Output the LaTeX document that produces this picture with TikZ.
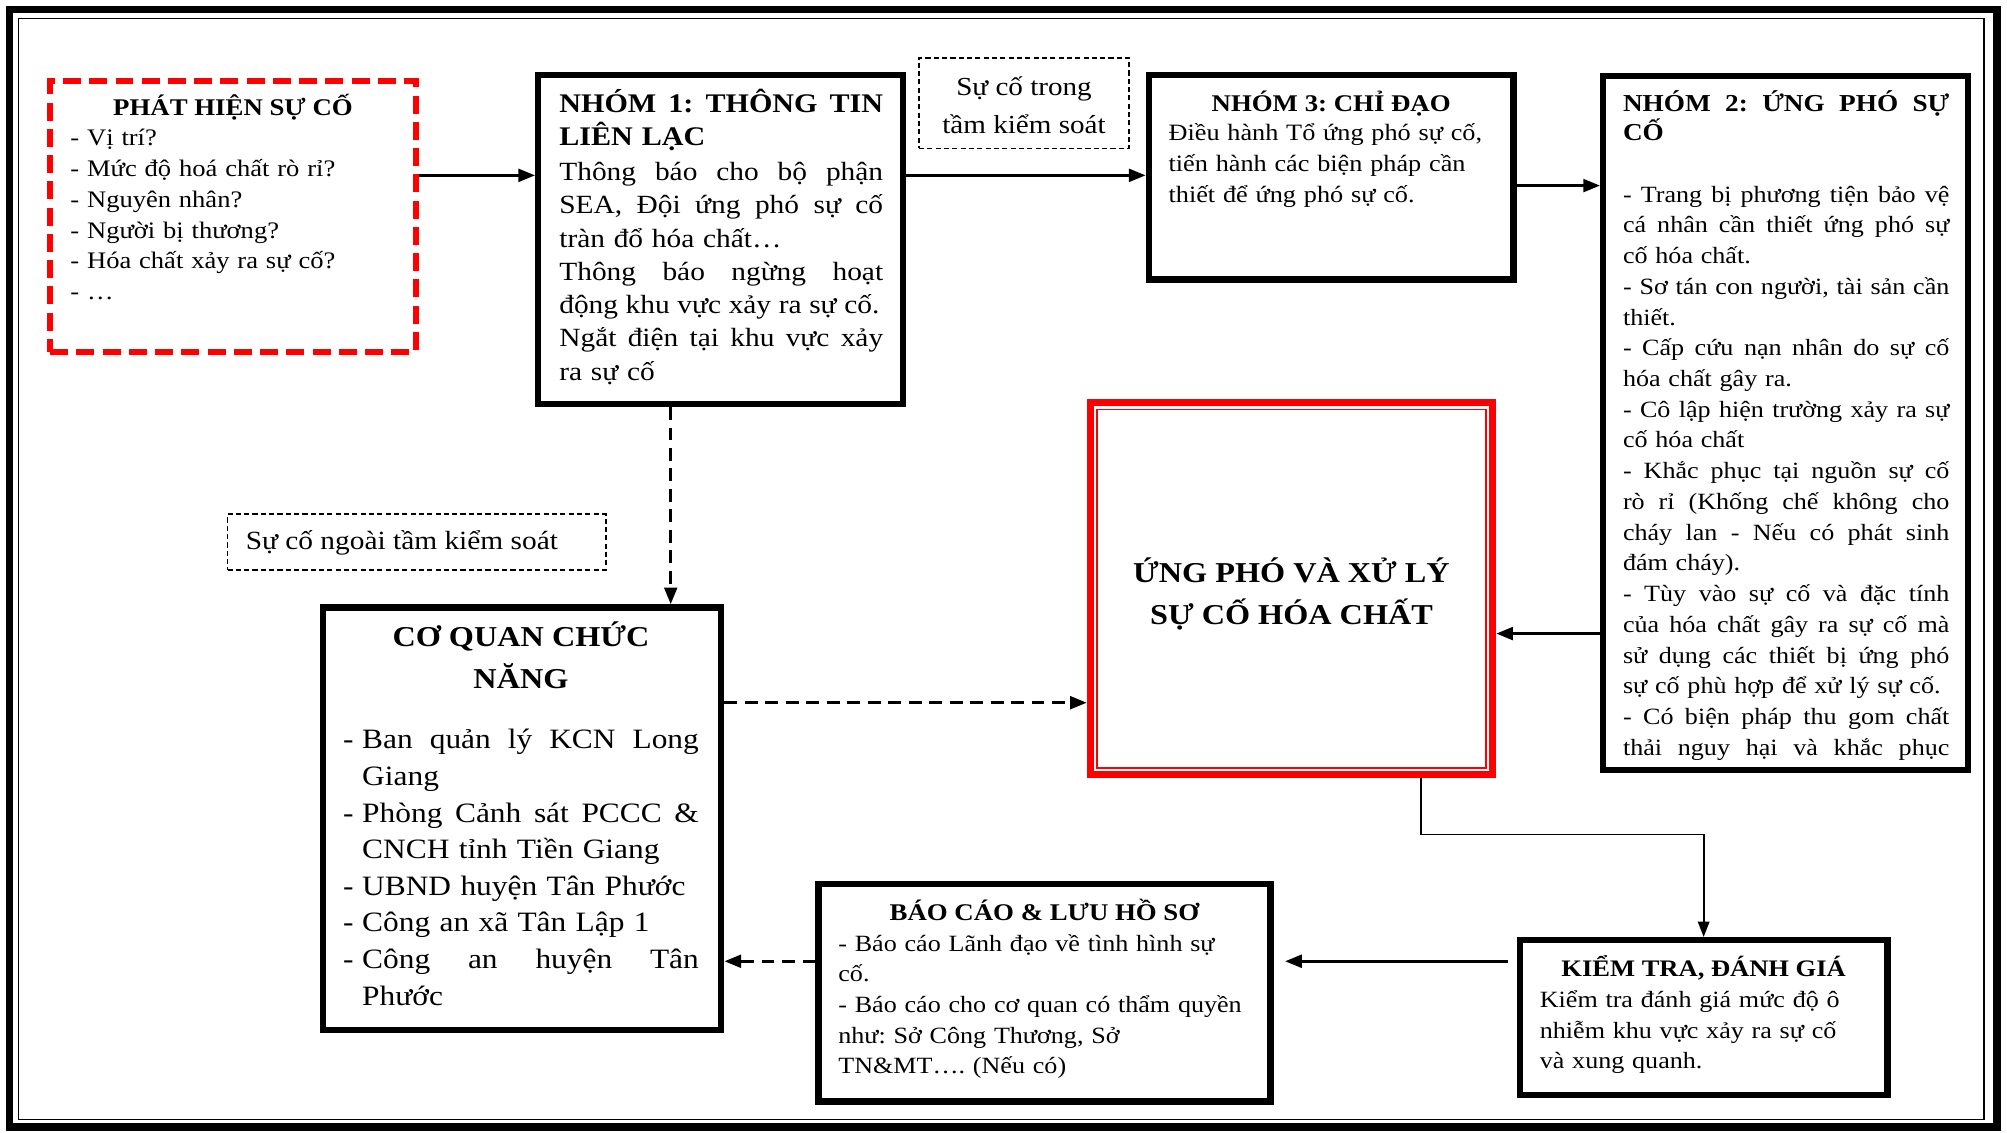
\documentclass[tikz,border=0pt]{standalone}
\usepackage{fontspec}
\setmainfont{Liberation Serif}[FakeStretch=1.12]
\usetikzlibrary{arrows.meta}
% a line spread to a given width (in pt) by stretching its word spaces
\newcommand\jl[2]{\leavevmode\hbox to #1pt{\spaceskip=\fontdimen2\font plus 1fil minus \fontdimen4\font\relax #2}}
\newcommand\fs[2]{\fontsize{#1}{#2}\selectfont}
\newcommand\dsh{\makebox[15pt][l]{-}}
\frenchspacing
\begin{document}
\begin{tikzpicture}[x=1pt,y=-1pt,
  blk/.style={draw, line width=5pt, inner sep=0pt},
  alarm/.style={draw=red, line width=4.5pt, dash pattern=on 14pt off 6.5pt, inner sep=0pt},
  note/.style={draw, line width=1.5pt, dash pattern=on 4pt off 2.5pt, inner sep=0pt},
  core/.style={draw=red, line width=5.5pt, inner sep=0pt},
  txt/.style={inner sep=0pt, outer sep=0pt, anchor=base west, align=left},
  ttl/.style={inner sep=0pt, outer sep=0pt, anchor=base, align=center},
  flow/.style={line width=2.2pt, -{Triangle[length=13pt,width=10pt]}},
  dflow/.style={flow, dash pattern=on 10pt off 6pt},
  lflow/.style={line width=1.3pt, -{Triangle[length=12pt,width=9pt]}}]

\fill[white] (0,0) rectangle (1568,885);
\useasboundingbox (0,0) rectangle (1568,885);

% page frame: thick outer rule, thin inner rule
\draw[line width=6pt] (7.5,7.5) rectangle (1560,880.5);
\draw[line width=1.3pt] (14.5,14.5) rectangle (1550,874.5);

% boxes
\node[alarm, minimum width=285.5pt, minimum height=211.5pt] (phat) at (182,169) {};
\node[blk, minimum width=285pt, minimum height=257pt] (nhom1) at (563,187) {};
\node[note, minimum width=164pt, minimum height=71pt] (trong) at (800,80.5) {};
\node[blk, minimum width=285pt, minimum height=160pt] (nhom3) at (1040,138.5) {};
\node[blk, minimum width=285pt, minimum height=542pt] (nhom2) at (1395,330.5) {};
\node[core, minimum width=314.5pt, minimum height=290.5pt] (ungpho) at (1009,460) {};
\draw[red, line width=1.2pt] ([shift={(8,8)}]ungpho.north west) rectangle ([shift={(-8,-8)}]ungpho.south east);
\node[blk, minimum width=311pt, minimum height=330pt] (cq) at (408,639.5) {};
\node[note, minimum width=295.5pt, minimum height=43.5pt] (ngoai) at (325.5,423.5) {};
\node[blk, minimum width=353pt, minimum height=170pt] (bc) at (816,775.5) {};
\node[blk, minimum width=287pt, minimum height=121pt] (kt) at (1331,795) {};

% texts
\node[ttl, font=\bfseries\fs{18.7}{24}] (phatT) at (182,90) {PHÁT HIỆN SỰ CỐ};
\node[txt, text width=260pt, font=\fs{18.5}{24}] (phatB) at (55,114)
  {- Vị trí?\\- Mức độ hoá chất rò rỉ?\\- Nguyên nhân?\\- Người bị thương?\\- Hóa chất xảy ra sự cố?\\- …};

\node[txt, text width=270pt, font=\bfseries\fs{21}{26}] (n1T) at (437,88)
  {\jl{253}{NHÓM 1: THÔNG TIN}\\LIÊN LẠC};
\node[txt, text width=270pt, font=\fs{20.5}{26}] (n1B) at (437,141)
  {\jl{253}{Thông báo cho bộ phận}\\\jl{253}{SEA, Đội ứng phó sự cố}\\tràn đổ hóa chất…\\\jl{253}{Thông báo ngừng hoạt}\\\jl{250}{động khu vực xảy ra sự cố.}\\\jl{253}{Ngắt điện tại khu vực xảy}\\ra sự cố};

\node[ttl, font=\fs{20.3}{29}] (trongT) at (800,104) {Sự cố trong\\tầm kiểm soát};

\node[ttl, font=\bfseries\fs{18.7}{24}] (n3T) at (1040,87) {NHÓM 3: CHỈ ĐẠO};
\node[txt, text width=265pt, font=\fs{18.3}{24}] (n3B) at (913,110)
  {Điều hành Tổ ứng phó sự cố,\\tiến hành các biện pháp cần\\thiết để ứng phó sự cố.};

\node[txt, text width=268pt, font=\bfseries\fs{19}{23}] (n2T) at (1268,87)
  {\jl{255}{NHÓM 2: ỨNG PHÓ SỰ}\\CỐ};
\node[txt, text width=268pt, font=\fs{18.2}{24}] (n2B) at (1268,158)
  {\jl{255}{- Trang bị phương tiện bảo vệ}\\\jl{255}{cá nhân cần thiết ứng phó sự}\\cố hóa chất.\\
   \jl{255}{- Sơ tán con người, tài sản cần}\\thiết.\\
   \jl{255}{- Cấp cứu nạn nhân do sự cố}\\hóa chất gây ra.\\
   \jl{255}{- Cô lập hiện trường xảy ra sự}\\cố hóa chất\\
   \jl{255}{- Khắc phục tại nguồn sự cố}\\\jl{255}{rò rỉ (Khống chế không cho}\\\jl{255}{cháy lan - Nếu có phát sinh}\\đám cháy).\\
   \jl{255}{- Tùy vào sự cố và đặc tính}\\\jl{255}{của hóa chất gây ra sự cố mà}\\\jl{255}{sử dụng các thiết bị ứng phó}\\sự cố phù hợp để xử lý sự cố.\\
   \jl{255}{- Có biện pháp thu gom chất}\\\jl{255}{thải nguy hại và khắc phục}};

\node[ttl, font=\bfseries\fs{22.5}{33}] (upT) at (1009,488) {ỨNG PHÓ VÀ XỬ LÝ\\SỰ CỐ HÓA CHẤT};

\node[ttl, font=\bfseries\fs{22.5}{33}] (cqT) at (407,538) {CƠ QUAN CHỨC\\NĂNG};
\node[txt, text width=290pt, font=\fs{21.9}{28.6}] (cqB) at (268,585)
  {\dsh\jl{263}{Ban quản lý KCN Long}\\\hspace*{15pt}Giang\\
   \dsh\jl{263}{Phòng Cảnh sát PCCC \&}\\\hspace*{15pt}CNCH tỉnh Tiền Giang\\
   \dsh UBND huyện Tân Phước\\
   \dsh Công an xã Tân Lập 1\\
   \dsh\jl{263}{Công an huyện Tân}\\\hspace*{15pt}Phước};

\node[txt, font=\fs{20.5}{24}] (ngoaiT) at (192,429) {Sự cố ngoài tầm kiểm soát};

\node[ttl, font=\bfseries\fs{18.7}{24}] (bcT) at (816,719) {BÁO CÁO \& LƯU HỒ SƠ};
\node[txt, text width=330pt, font=\fs{18.2}{24}] (bcB) at (655,743)
  {- Báo cáo Lãnh đạo về tình hình sự\\cố.\\- Báo cáo cho cơ quan có thẩm quyền\\như: Sở Công Thương, Sở\\TN\&MT…. (Nếu có)};

\node[ttl, font=\bfseries\fs{18.5}{24}] (ktT) at (1331,763) {KIỂM TRA, ĐÁNH GIÁ};
\node[txt, text width=265pt, font=\fs{18.2}{24}] (ktB) at (1203,787)
  {Kiểm tra đánh giá mức độ ô\\nhiễm khu vực xảy ra sự cố\\và xung quanh.};

% connector rows and columns
\coordinate (r137) at (0,137);
\coordinate (r145) at (0,145);
\coordinate (r495) at (0,495);
\coordinate (r549) at (0,549);
\coordinate (r751) at (0,751);
\coordinate (c524) at (524,0);
\coordinate (c1110) at (1110,0);
\coordinate (bend) at (1220,652);

% connectors
\draw[flow] (phat.east |- r137) -- (nhom1.west |- r137);
\draw[flow] (nhom1.east |- r137) -- (nhom3.west |- r137);
\draw[flow] (nhom3.east |- r145) -- (nhom2.west |- r145);
\draw[flow] (nhom2.west |- r495) -- (ungpho.east |- r495);
\draw[dflow] (nhom1.south -| c524) -- (cq.north -| c524);
\draw[dflow] (cq.east |- r549) -- (ungpho.west |- r549);
\draw[lflow] (ungpho.south -| c1110) |- (bend) -| (kt.north);
\draw[flow, shorten <=7pt, shorten >=9pt] (kt.west |- r751) -- (bc.east |- r751);
\draw[dflow] (bc.west |- r751) -- (cq.east |- r751);

\end{tikzpicture}
\end{document}
